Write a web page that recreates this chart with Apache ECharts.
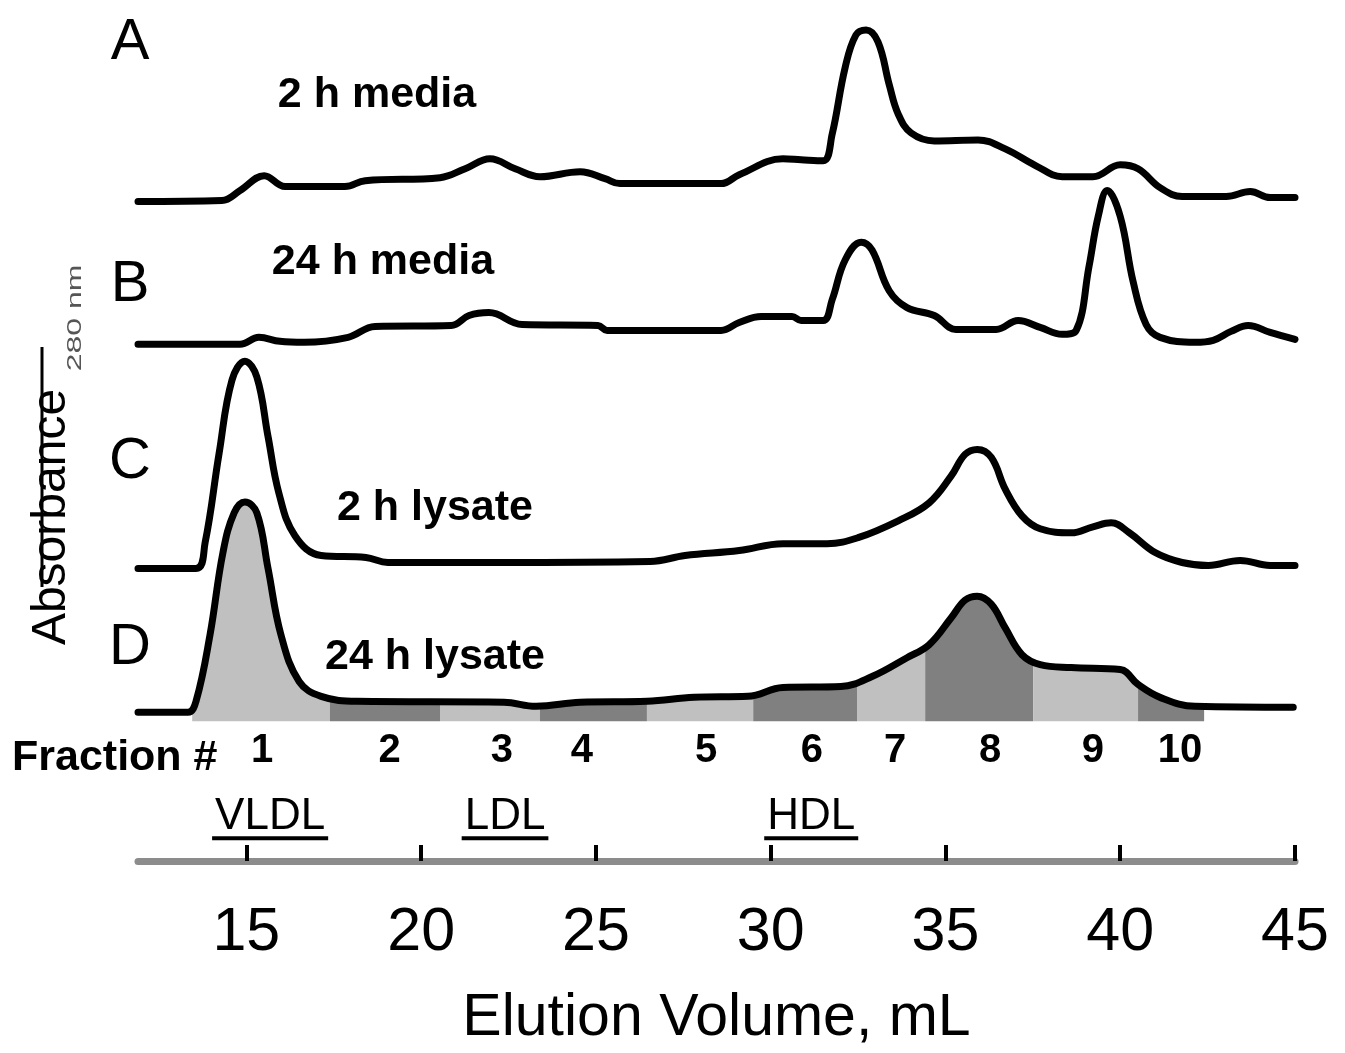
<!DOCTYPE html>
<html><head><meta charset="utf-8">
<script src="https://cdn.jsdelivr.net/npm/echarts@6/dist/echarts.min.js"></script>
<style>html,body{margin:0;padding:0;background:#fff}#chart{width:1345px;height:1053px}</style>
</head><body><div id="chart"></div>
<script>
// ---------------- DATA ----------------
const panelLetters = ['A', 'B', 'C', 'D'];
const traceNames = ['2 h media', '24 h media', '2 h lysate', '24 h lysate'];
// [elution volume mL, absorbance above own baseline (arb. units)]
const traceA = [[11.9,0],[14.30,0.1],[14.82,1.1],[15.51,2.6],[16.11,1.5],[17.82,1.5],[18.40,2.1],[20.54,2.4],[21.26,3.3],[21.97,4.3],[22.69,3.3],[23.40,2.5],[24.55,3.0],[25.26,2.3],[25.69,1.8],[28.58,1.8],[29.10,2.7],[30.35,4.3],[30.87,4.2],[31.50,4.1],[31.76,6.8],[32.13,13.5],[32.44,16.8],[32.73,17.3],[33.07,16.1],[33.39,11.8],[33.65,8.8],[34.02,6.9],[34.68,6.1],[35.93,6.2],[36.71,5.3],[37.59,3.6],[38.34,2.5],[39.22,2.5],[40.0,3.7],[40.51,3.3],[41.14,1.4],[41.77,0.5],[43.03,0.5],[43.72,1.0],[44.29,0.4],[45.0,0.4]];
const traceB = [[11.9,0],[14.82,0],[15.36,0.7],[15.96,0.3],[16.65,0.2],[17.91,0.7],[18.68,1.8],[20.86,1.9],[21.37,2.9],[21.94,3.2],[22.89,2.0],[25.06,1.9],[25.32,1.4],[28.58,1.4],[29.10,2.2],[29.73,2.8],[30.61,2.8],[30.87,2.4],[31.50,2.4],[31.76,4.5],[32.13,8.5],[32.59,10.3],[32.90,9.5],[33.39,5.4],[33.90,3.7],[34.68,2.9],[35.30,1.5],[36.45,1.5],[37.08,2.4],[37.71,1.7],[38.34,1.0],[38.74,1.4],[39.11,7.9],[39.37,12.9],[39.63,15.5],[40.0,12.9],[40.37,6.3],[40.74,2.0],[41.14,0.7],[42.14,0.2],[42.66,0.4],[43.17,1.3],[43.66,1.9],[44.29,1.2],[45.0,0.5]];
const traceC = [[11.9,0],[13.56,0],[13.82,2.6],[14.22,11.6],[14.59,19.0],[14.96,20.9],[15.30,19.3],[15.62,13.3],[15.93,7.6],[16.39,3.3],[17.14,1.3],[18.42,1.1],[19.05,0.6],[22.26,0.6],[26.55,0.7],[27.55,1.3],[29.10,1.8],[30.35,2.5],[31.61,2.5],[32.50,3.1],[33.65,4.8],[34.53,6.6],[35.16,9.3],[35.56,11.5],[35.91,12.0],[36.31,11.2],[36.71,8.0],[37.19,5.3],[37.71,4.0],[38.60,3.6],[39.22,4.2],[39.74,4.6],[40.26,3.6],[41.0,1.6],[41.77,0.6],[42.52,0.3],[43.43,0.8],[44.29,0.3],[45.0,0.3]];
const traceD = [[11.9,0],[13.33,0],[13.56,1.1],[13.96,7.8],[14.33,16.1],[14.65,20.1],[14.96,21.2],[15.30,20.1],[15.62,14.5],[15.99,7.8],[16.51,3.1],[17.14,1.6],[18.17,1.1],[22.37,1.0],[23.29,0.6],[24.55,1.0],[26.46,1.1],[27.81,1.5],[29.35,1.6],[30.35,2.5],[32.01,2.6],[32.90,3.6],[33.90,5.5],[34.53,6.8],[35.16,9.5],[35.56,11.3],[35.91,11.7],[36.31,10.9],[36.71,8.5],[37.19,5.8],[37.71,4.8],[38.60,4.5],[40.0,4.3],[40.51,2.8],[41.14,1.5],[42.14,0.6],[44.95,0.5]];
const traceOffsets = [66.5, 52.1, 29.5, 15.0];
const fractionNumbers = ['1','2','3','4','5','6','7','8','9','10'];
const fractionEdges = [13.45, 17.39, 20.54, 23.40, 26.46, 29.50, 32.47, 34.42, 37.51, 40.51, 42.40];
const fractionLabelX = [15.45, 19.10, 22.31, 24.60, 28.15, 31.18, 33.56, 36.28, 39.22, 41.71];
const lipoClasses = ['VLDL', 'LDL', 'HDL'];
const lipoCenters = [15.68, 22.40, 31.16];
const xTicks = [15, 20, 25, 30, 35, 40, 45];

// ---------------- LAYOUT / STYLE ----------------
const FONT = '"Liberation Sans", Arial, sans-serif';
const shadeFloor = -0.9;        // fill floor relative to trace D baseline
const fractionLabelY = 11.1;    // y units
const lipoTextY = 4.5, lipoLineY = 2.3;
const shadeColors = ['#c0c0c0', '#808080'];

function interp(pairs, x) {
  for (let i = 0; i < pairs.length - 1; i++) {
    const [x0, y0] = pairs[i], [x1, y1] = pairs[i + 1];
    if (x >= x0 && x <= x1) return y0 + (y1 - y0) * (x - x0) / (x1 - x0);
  }
  return 0;
}
const measureCtx = document.createElement('canvas').getContext('2d');
function textWidth(t, font) { measureCtx.font = font; return measureCtx.measureText(t).width; }

const traces = [traceA, traceB, traceC, traceD];
const chart = echarts.init(document.getElementById('chart'), null, {renderer: 'canvas'});

function txt(text, x, y, size, weight, align) {
  return {type: 'text', x: x, y: y, z: 10,
    style: {text: text, font: weight + ' ' + size + 'px ' + FONT, fill: '#000',
      textAlign: align || 'center', textVerticalAlign: 'middle'}};
}

const lineSeries = traces.map((tr, i) => ({
  type: 'line', name: traceNames[i], z: 5,
  data: tr.map(([x, h]) => [x, h + traceOffsets[i]]),
  showSymbol: false, smooth: 0.4,
  lineStyle: {color: '#000', width: 7, cap: 'round', join: 'round'},
  silent: true
}));

const shadeSeries = {
  type: 'custom', z: 2, silent: true,
  data: fractionNumbers.map((n, i) => [fractionEdges[i], fractionEdges[i + 1], i]),
  renderItem: function (params, api) {
    const a = api.value(0), b = api.value(1), idx = api.value(2);
    const off = traceOffsets[3];
    const pts = [api.coord([a, off + shadeFloor]), api.coord([a, off + interp(traceD, a)])];
    traceD.forEach(([x, h]) => { if (x > a && x < b) pts.push(api.coord([x, off + h])); });
    pts.push(api.coord([b, off + interp(traceD, b)]));
    pts.push(api.coord([b, off + shadeFloor]));
    return {type: 'polygon', shape: {points: pts}, style: {fill: shadeColors[idx % 2]}};
  }
};

const fractionLabelSeries = {
  type: 'custom', z: 6, silent: true,
  data: fractionLabelX.map((x, i) => [x, i]),
  renderItem: function (params, api) {
    const p = api.coord([api.value(0), fractionLabelY]);
    return {type: 'text', x: p[0], y: p[1],
      style: {text: fractionNumbers[api.value(1)], font: 'bold 40px ' + FONT, fill: '#000',
        textAlign: 'center', textVerticalAlign: 'middle'}};
  }
};

const lipoFont = 'normal 44px ' + FONT;
const lipoSeries = {
  type: 'custom', z: 6, silent: true,
  data: lipoCenters.map((c, i) => [c, i]),
  renderItem: function (params, api) {
    const name = lipoClasses[api.value(1)];
    const pt = api.coord([api.value(0), lipoTextY]);
    const pl = api.coord([api.value(0), lipoLineY]);
    const w = textWidth(name, lipoFont) + 6;
    return {type: 'group', children: [
      {type: 'text', x: pt[0], y: pt[1], style: {text: name, font: lipoFont, fill: '#000', textAlign: 'center', textVerticalAlign: 'middle'}},
      {type: 'rect', shape: {x: pl[0] - w / 2, y: pl[1] - 2, width: w, height: 4}, style: {fill: '#000'}}
    ]};
  }
};

const option = {
  animation: false,
  backgroundColor: '#fff',
  grid: {left: 138, right: 50, top: 18, bottom: 185},
  xAxis: {
    type: 'value', min: 11.9, max: 45,
    name: 'Elution Volume, mL', nameLocation: 'middle', nameGap: 128,
    nameTextStyle: {fontFamily: FONT, fontSize: 59, color: '#000'},
    axisLine: {show: true, onZero: false, lineStyle: {color: '#8c8c8c', width: 7}},
    axisTick: {show: true, inside: true, length: 16, customValues: xTicks, lineStyle: {color: '#000', width: 4}},
    axisLabel: {show: true, customValues: xTicks, margin: 42, fontFamily: FONT, fontSize: 61, color: '#000'},
    splitLine: {show: false}
  },
  yAxis: {type: 'value', min: 0, max: 85, show: false},
  series: [shadeSeries].concat(lineSeries, [fractionLabelSeries, lipoSeries]),
  graphic: [
    txt(panelLetters[0], 130, 43, 58, 'normal'),
    txt(panelLetters[1], 130, 285, 58, 'normal'),
    txt(panelLetters[2], 130, 462, 58, 'normal'),
    txt(panelLetters[3], 130, 648, 58, 'normal'),
    txt(traceNames[0], 377, 95, 43, 'bold'),
    txt(traceNames[1], 383, 262, 43, 'bold'),
    txt(traceNames[2], 435, 508, 43, 'bold'),
    txt(traceNames[3], 435, 657, 43, 'bold'),
    txt('Fraction #', 12, 758, 43, 'bold', 'left'),
    {type: 'text', x: 52, y: 517, rotation: Math.PI / 2, z: 10,
      style: {text: 'Absorbance', font: 'normal 48px ' + FONT, fill: '#000', textAlign: 'center', textVerticalAlign: 'middle'}},
    {type: 'text', x: 75, y: 318, rotation: Math.PI / 2, scaleX: 1.6, z: 10,
      style: {text: '280 nm', font: 'normal 20px ' + FONT, fill: '#555', textAlign: 'center', textVerticalAlign: 'middle'}},
    {type: 'line', z: 10, shape: {x1: 42, y1: 347, x2: 42, y2: 587}, style: {stroke: '#000', lineWidth: 3}}
  ]
};
chart.setOption(option);
</script></body></html>
